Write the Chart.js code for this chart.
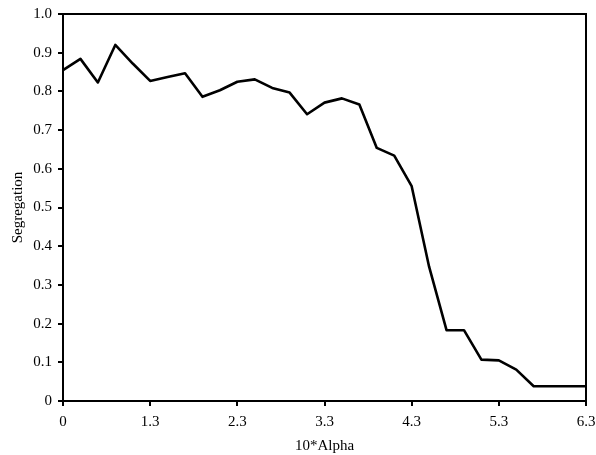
<!DOCTYPE html>
<html>
<head>
<meta charset="utf-8">
<script src="https://cdn.jsdelivr.net/npm/chart.js@4"></script>
<style>
  body { margin: 0; background: #fff; }
</style>
</head>
<body>
<canvas id="canvas" width="596" height="455"></canvas>
<script>
// 10*Alpha categories (only every 5th is labelled on the axis)
const alphaLabels = ['0', '0.5', '0.7', '0.9', '1.1', '1.3', '1.5', '1.7', '1.9', '2.1',
    '2.3', '2.5', '2.7', '2.9', '3.1', '3.3', '3.5', '3.7', '3.9', '4.1',
    '4.3', '4.5', '4.7', '4.9', '5.1', '5.3', '5.5', '5.7', '5.9', '6.1', '6.3'];

// segregation
const segregation = [0.855, 0.884, 0.823, 0.920, 0.872, 0.827, 0.837, 0.847, 0.786, 0.803,
    0.825, 0.831, 0.809, 0.797, 0.741, 0.771, 0.782, 0.766, 0.654, 0.634,
    0.555, 0.347, 0.183, 0.183, 0.107, 0.105, 0.081, 0.038, 0.038, 0.038, 0.038];

const yTicks = [0, 0.1, 0.2, 0.3, 0.4, 0.5, 0.6, 0.7, 0.8, 0.9, 1.0];

const font = { family: "'Liberation Serif', 'DejaVu Serif', serif", size: 15 };

// box round the plot area
const frame = {
    id: 'frame',
    afterDraw(chart) {
        const a = chart.chartArea;
        const c = chart.ctx;
        c.save();
        c.strokeStyle = '#000';
        c.lineWidth = 2;
        c.strokeRect(a.left, a.top, a.right - a.left, a.bottom - a.top);
        c.restore();
    }
};

const ctx = document.getElementById('canvas');
const myChart = new Chart(ctx, {
    type: 'line',
    data: {
        labels: alphaLabels,
        datasets: [{
            data: segregation,
            borderColor: '#000',
            borderWidth: 2.6,
            borderJoinStyle: 'round',
            pointRadius: 0,
            tension: 0,
            fill: false
        }]
    },
    options: {
        responsive: false,
        animation: false,
        layout: { padding: { top: 14, right: 10, left: 0, bottom: 0 } },
        plugins: {
            legend: { display: false },
            tooltip: { enabled: false }
        },
        scales: {
            x: {
                type: 'category',
                offset: false,
                afterFit: s => { s.height = 54; s.paddingRight = 0; s.paddingLeft = 0; },
                border: { color: '#000', width: 2 },
                grid: {
                    drawOnChartArea: false,
                    tickLength: 5,
                    lineWidth: 2,
                    color: c => (c.index % 5 === 0 ? '#000' : 'rgba(0,0,0,0)')
                },
                ticks: {
                    autoSkip: false,
                    maxRotation: 0,
                    color: '#000',
                    font: font,
                    padding: 7,
                    callback: function (v, i) { return i % 5 === 0 ? this.getLabelForValue(v) : ''; }
                },
                title: { display: true, text: '10*Alpha', color: '#000', font: font, padding: { top: 0, bottom: 0 } }
            },
            y: {
                min: 0,
                max: 1,
                afterFit: s => { s.width = 63; s.paddingTop = 0; s.paddingBottom = 0; },
                afterBuildTicks: s => { s.ticks = yTicks.map(v => ({ value: v })); },
                border: { color: '#000', width: 2 },
                grid: { drawOnChartArea: false, tickLength: 5, lineWidth: 2, color: '#000' },
                ticks: {
                    color: '#000',
                    font: font,
                    padding: 6,
                    callback: v => (v === 0 ? '0' : v.toFixed(1))
                },
                title: { display: true, text: 'Segregation', color: '#000', font: font, padding: { top: 9, bottom: 0 } }
            }
        }
    },
    plugins: [frame]
});
</script>
</body>
</html>
